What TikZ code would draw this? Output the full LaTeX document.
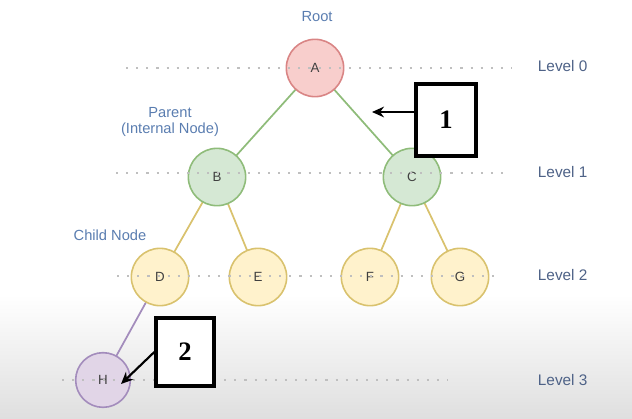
\documentclass[tikz,border=0pt]{standalone}
\usepackage{fontspec}
\setmainfont{Liberation Sans}
\newfontfamily\boxfont{Liberation Serif}
\usetikzlibrary{arrows.meta}

\definecolor{rootfill}{HTML}{F8CECC}
\definecolor{rootline}{HTML}{D98585}
\definecolor{midfill}{HTML}{D5E8D4}
\definecolor{midline}{HTML}{8FBC7A}
\definecolor{leaffill}{HTML}{FFF2CC}
\definecolor{leafline}{HTML}{D9C26E}
\definecolor{lowfill}{HTML}{E1D5E7}
\definecolor{lowline}{HTML}{A38CBC}
\definecolor{labelblue}{HTML}{5A7DB0}
\definecolor{levelblue}{HTML}{4E6287}

\tikzset{every picture/.style={line width=0.75pt}}
\tikzset{
  treenode/.style={circle,draw,line width=1.2pt,minimum size=43pt,inner sep=0pt,
    font=\fontsize{10}{11}\selectfont,text=black!75},
  rootnode/.style={treenode,fill=rootfill,draw=rootline},
  midnode/.style={treenode,fill=midfill,draw=midline},
  leafnode/.style={treenode,fill=leaffill,draw=leafline},
  lownode/.style={treenode,fill=lowfill,draw=lowline,minimum size=41pt},
  levelline/.style={gray!50,line width=1.6pt,dash pattern=on 1.6pt off 6pt},
  tag/.style={text=labelblue,font=\fontsize{11}{12}\selectfont,align=center},
  leveltag/.style={text=levelblue,font=\fontsize{11.5}{12}\selectfont},
  numbox/.style={draw,fill=white,line width=3pt,inner sep=0pt,
    font=\boxfont\bfseries\fontsize{20}{20}\selectfont}
}

\begin{document}
\begin{tikzpicture}[x=0.75pt,y=0.75pt,yscale=-1,xscale=1]
\path (0,0) rectangle (632,418); %set diagram to 632 x 418

%Background
\shade[top color=white,bottom color=gray!25] (0,295) rectangle (632,418);

%Straight Lines: edges
\coordinate (pA) at (315,68);
\coordinate (pB) at (217,177);
\coordinate (pC) at (412,177);
\coordinate (pD) at (160,277);
\coordinate (pE) at (258,277);
\coordinate (pF) at (370,277);
\coordinate (pG) at (460,277);
\coordinate (pH) at (103,380);
\draw [midline,line width=1.3pt] (pA) -- (pB) (pA) -- (pC);
\draw [leafline,line width=1.3pt] (pB) -- (pD) (pB) -- (pE) (pC) -- (pF) (pC) -- (pG);
\draw [lowline,line width=1.3pt] (pD) -- (pH);

%Shape: Circle
\node [rootnode] (A) at (pA) {A};
\node [midnode] (B) at (pB) {B};
\node [midnode] (C) at (pC) {C};
\node [leafnode] (D) at (pD) {D};
\node [leafnode] (E) at (pE) {E};
\node [leafnode] (F) at (pF) {F};
\node [leafnode] (G) at (pG) {G};
\node [lownode] (H) at (pH) {H};

%Dotted Lines: levels
\draw [levelline] (126,68) -- (512,68);
\draw [levelline] (116,173) -- (508,173);
\draw [levelline] (117,276) -- (500,276);
\draw [levelline] (62,380) -- (448,380);

% Text Node
\node [tag] (root) at (317,17) {Root};
% Text Node
\node [tag] (parent) at (170,122) {Parent\\(Internal Node)};
% Text Node
\node [tag] (child) at (110,235) {Child Node};
% Text Node
\node [leveltag,anchor=west] (lv0) at (533,66) {Level 0};
\node [leveltag,anchor=west] (lv1) at (533,172) {Level 1};
\node [leveltag,anchor=west] (lv2) at (533,275) {Level 2};
\node [leveltag,anchor=west] (lv3) at (533,380) {Level 3};

%Shape: Rectangle
\node [numbox,minimum width=45pt,minimum height=54pt] (box1) at (446,120) {1};
\node [numbox,minimum width=43pt,minimum height=51pt] (box2) at (185,352) {2};

%Straight Lines: arrows
\coordinate (tip1) at (372,112);
\coordinate (tip2) at (121,384);
\draw [line width=1.6pt,-{Stealth[length=9pt,width=8pt]}] (box1.west |- tip1) -- (tip1);
\draw [line width=1.6pt,-{Stealth[length=9pt,width=8pt]}] (box2.west) -- (tip2);
\end{tikzpicture}
\end{document}
